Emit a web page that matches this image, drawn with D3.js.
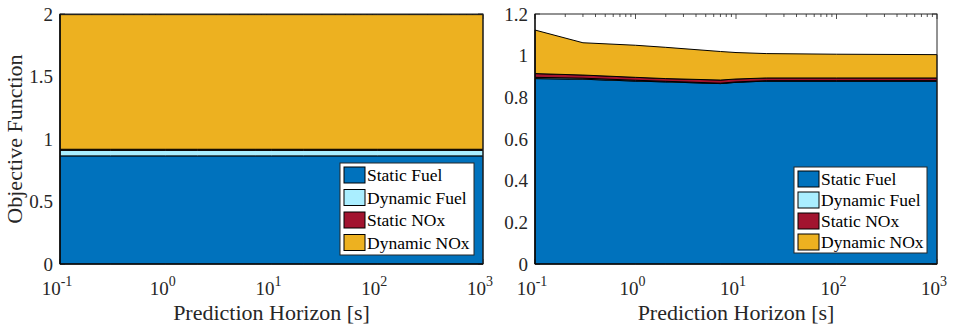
<!DOCTYPE html>
<html>
<head>
<meta charset="utf-8">
<script src="https://cdn.jsdelivr.net/npm/d3@7"></script>
<style>
html,body{margin:0;padding:0;background:#fff;}
svg{display:block;font-family:"Liberation Serif","Times New Roman",serif;}
</style>
</head>
<body>
<svg id="chart" width="958" height="326"></svg>
<script>
// ---------------- data ----------------
const seriesNames = ["Static Fuel", "Dynamic Fuel", "Static NOx", "Dynamic NOx"];
const seriesColors = ["#0072BD", "#AAEEFF", "#A2142F", "#EDB120"];
const horizons = [0.1, 0.3, 1, 2, 7, 10, 20, 100, 1000];

// left panel
const leftStaticFuel  = [0.865, 0.865, 0.865, 0.865, 0.865, 0.865, 0.865, 0.865, 0.865];
const leftDynamicFuel = [0.045, 0.045, 0.045, 0.045, 0.045, 0.045, 0.045, 0.045, 0.045];
const leftStaticNOx   = [0.008, 0.008, 0.008, 0.008, 0.008, 0.008, 0.008, 0.008, 0.008];
const leftDynamicNOx  = [1.077, 1.077, 1.077, 1.077, 1.077, 1.077, 1.077, 1.077, 1.077];

// right panel
const rightStaticFuel  = [0.890, 0.887, 0.878, 0.874, 0.866, 0.872, 0.878, 0.878, 0.878];
const rightDynamicFuel = [0.006, 0.005, 0.004, 0.003, 0.002, 0.002, 0.002, 0.002, 0.002];
const rightStaticNOx   = [0.018, 0.015, 0.014, 0.013, 0.015, 0.014, 0.013, 0.013, 0.013];
const rightDynamicNOx  = [0.209, 0.155, 0.154, 0.150, 0.137, 0.127, 0.117, 0.114, 0.112];

const xTickExps = [-1, 0, 1, 2, 3];
const leftYTicks = [0, 0.5, 1, 1.5, 2];
const rightYTicks = [0, 0.2, 0.4, 0.6, 0.8, 1, 1.2];

// ---------------- drawing ----------------
const svg = d3.select("#chart");
const axisColor = "#262626";

function panel(opts) {
  const {x0, x1, y0, y1, yMax, yTicks, series, legend} = opts;
  const g = svg.append("g");
  const x = d3.scaleLog().domain([0.1, 1000]).range([x0, x1]);
  const y = d3.scaleLinear().domain([0, yMax]).range([y1, y0]);

  // ticks (under data)
  const majors = xTickExps.map(e => Math.pow(10, e));
  const minors = [];
  for (let e = -1; e < 3; e++) for (let k = 2; k <= 9; k++) minors.push(k * Math.pow(10, e));
  const tl = 5, tlm = 3;
  const tg = g.append("g").attr("stroke", axisColor).attr("stroke-width", 0.8);
  majors.forEach(v => {
    tg.append("line").attr("x1", x(v)).attr("x2", x(v)).attr("y1", y1).attr("y2", y1 - tl);
    tg.append("line").attr("x1", x(v)).attr("x2", x(v)).attr("y1", y0).attr("y2", y0 + tl);
  });
  minors.forEach(v => {
    tg.append("line").attr("x1", x(v)).attr("x2", x(v)).attr("y1", y1).attr("y2", y1 - tlm);
    tg.append("line").attr("x1", x(v)).attr("x2", x(v)).attr("y1", y0).attr("y2", y0 + tlm);
  });
  yTicks.forEach(v => {
    tg.append("line").attr("x1", x0).attr("x2", x0 + tl).attr("y1", y(v)).attr("y2", y(v));
    tg.append("line").attr("x1", x1).attr("x2", x1 - tl).attr("y1", y(v)).attr("y2", y(v));
  });

  // stacked areas
  const rows = horizons.map((h, i) => {
    const r = {h};
    seriesNames.forEach((n, j) => r[n] = series[j][i]);
    return r;
  });
  const stack = d3.stack().keys(seriesNames)(rows);
  const area = d3.area()
    .x(d => x(d.data.h))
    .y0(d => y(d[0]))
    .y1(d => y(d[1]));
  g.append("g").selectAll("path").data(stack).join("path")
    .attr("d", area)
    .attr("fill", (d, i) => seriesColors[i])
    .attr("stroke", "#000")
    .attr("stroke-width", 1)
    .attr("stroke-linejoin", "round");

  // box
  g.append("rect").attr("x", x0).attr("y", y0).attr("width", x1 - x0).attr("height", y1 - y0)
    .attr("fill", "none").attr("stroke", axisColor).attr("stroke-width", 1);
  g.append("line").attr("x1", x0).attr("x2", x0).attr("y1", y0).attr("y2", y1).attr("stroke", "#000").attr("stroke-width", 1.2);
  g.append("line").attr("x1", x0).attr("x2", x1).attr("y1", y1).attr("y2", y1).attr("stroke", "#000").attr("stroke-width", 1.2);

  // y tick labels
  yTicks.forEach(v => {
    g.append("text").attr("x", x0 - 7).attr("y", y(v)).attr("dy", "0.35em")
      .attr("text-anchor", "end").attr("font-size", 19).attr("fill", axisColor)
      .text(d3.format("~g")(v));
  });
  // x tick labels
  xTickExps.forEach(e => {
    const t = g.append("text").attr("x", x(Math.pow(10, e)) - 3).attr("y", y1 + 31)
      .attr("text-anchor", "middle").attr("font-size", 19).attr("fill", axisColor);
    t.append("tspan").text("10");
    t.append("tspan").attr("dy", -9).attr("font-size", 14).text(String(e));
  });
  // x label
  g.append("text").attr("x", (x0 + x1) / 2).attr("y", y1 + 56)
    .attr("text-anchor", "middle").attr("font-size", 22).attr("fill", axisColor)
    .text("Prediction Horizon [s]");

  // legend
  const L = legend;
  g.append("rect").attr("x", L.x).attr("y", L.y).attr("width", L.w).attr("height", L.h)
    .attr("fill", "#fff").attr("stroke", axisColor).attr("stroke-width", 1);
  seriesNames.forEach((n, i) => {
    const cy = L.y + L.top + i * L.step;
    g.append("rect").attr("x", L.x + 4).attr("y", cy - 8).attr("width", 21).attr("height", 16)
      .attr("fill", seriesColors[i]).attr("stroke", "#000").attr("stroke-width", 1);
    g.append("text").attr("x", L.x + 27).attr("y", cy).attr("dy", "0.35em")
      .attr("font-size", 17.5).attr("fill", "#000").text(n);
  });
  return g;
}

panel({
  x0: 60, x1: 483, y0: 14, y1: 264, yMax: 2, yTicks: leftYTicks,
  series: [leftStaticFuel, leftDynamicFuel, leftStaticNOx, leftDynamicNOx],
  legend: {x: 340, y: 163, w: 134, h: 92, top: 12, step: 22.5}
});
panel({
  x0: 535, x1: 937, y0: 14, y1: 264, yMax: 1.2, yTicks: rightYTicks,
  series: [rightStaticFuel, rightDynamicFuel, rightStaticNOx, rightDynamicNOx],
  legend: {x: 794, y: 167, w: 133, h: 86, top: 12, step: 21}
});

// y axis label
svg.append("text").attr("transform", "translate(22,139) rotate(-90)")
  .attr("text-anchor", "middle").attr("font-size", 22).attr("fill", axisColor)
  .text("Objective Function");
</script>
</body>
</html>
